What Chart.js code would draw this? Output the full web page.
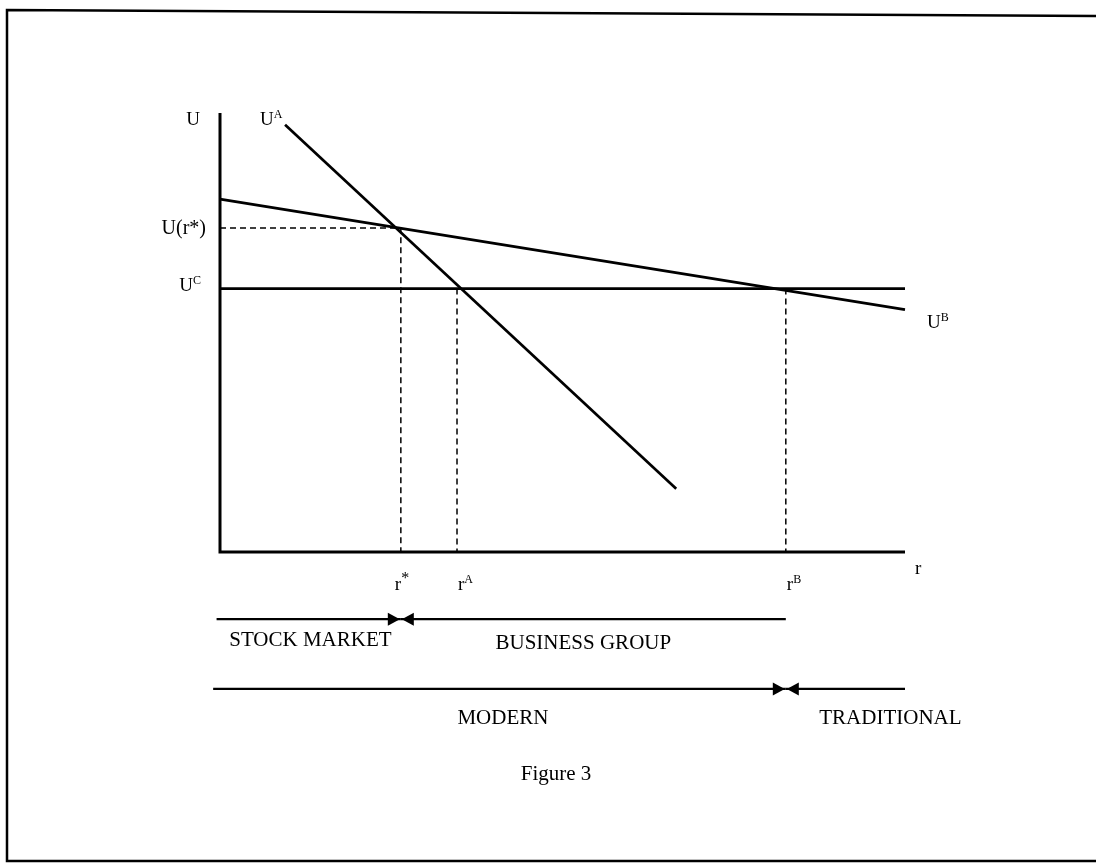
<!DOCTYPE html>
<html>
<head>
<meta charset="utf-8">
<script src="https://cdn.jsdelivr.net/npm/chart.js@4.4.1/dist/chart.umd.min.js"></script>
<style>
html, body { margin: 0; padding: 0; background: #fff; }
#wrap { width: 1096px; height: 864px; }
</style>
</head>
<body>
<div id="wrap"><canvas id="fig" width="1096" height="864"></canvas></div>
<script>
// points marked on the r axis: r*, rA, rB
const rNames = ['r', 'r', 'r'];
const rSups = ['*', 'A', 'B'];
const rValues = [26.4, 34.6, 82.6];
const rMax = 100;
const uMax = 100;

// utility levels
const uStar = 73.8;
const uC = 60;

// the two sloping curves (end points, [r, U])
const uAPoints = [[9.5, 97.3], [66.6, 14.4]];
const uBPoints = [[0, 80.4], [100, 55.2]];

// the two bands drawn under the r axis
const bandLevels = [-15.3, -31.2];
const band1Labels = ['STOCK MARKET', 'BUSINESS GROUP'];
const band2Labels = ['MODERN', 'TRADITIONAL'];

const caption = 'Figure 3';

const SERIF = '"Liberation Serif", "Times New Roman", serif';
const rStar = rValues[0], rA = rValues[1], rB = rValues[2];

function pts(arr) {
    return arr.map(p => ({ x: p[0], y: p[1] }));
}

function lineSet(data, width, dash) {
    return {
        data: data,
        showLine: true,
        borderColor: '#000',
        borderWidth: width,
        borderDash: dash || [],
        pointRadius: 0,
        fill: false,
        tension: 0,
        clip: false
    };
}

const datasets = [
    // axes
    lineSet([{ x: 0, y: uMax }, { x: 0, y: 0 }, { x: rMax, y: 0 }], 3),
    // curves
    lineSet(pts(uAPoints), 2.7),
    lineSet(pts(uBPoints), 2.7),
    lineSet([{ x: 0, y: uC }, { x: rMax, y: uC }], 2.8),
    // dashed guides
    lineSet([{ x: 0, y: uStar }, { x: rStar, y: uStar }, { x: rStar, y: 0 }], 1.5, [6, 4]),
    lineSet([{ x: rA, y: uC }, { x: rA, y: 0 }], 1.5, [6, 4]),
    lineSet([{ x: rB, y: uC }, { x: rB, y: 0 }], 1.5, [6, 4]),
    // bands
    lineSet([{ x: -0.5, y: bandLevels[0] }, { x: rStar, y: bandLevels[0] }], 2.2),
    lineSet([{ x: rStar, y: bandLevels[0] }, { x: rB, y: bandLevels[0] }], 2.2),
    lineSet([{ x: -1, y: bandLevels[1] }, { x: rB, y: bandLevels[1] }], 2.2),
    lineSet([{ x: rB, y: bandLevels[1] }, { x: rMax, y: bandLevels[1] }], 2.2)
];

// text with a raised part, e.g. U^A
function supText(ctx, x, y, main, sup, align, size, supSize) {
    const ss = supSize || Math.round(size * 0.66);
    ctx.font = size + 'px ' + SERIF;
    const w1 = ctx.measureText(main).width;
    ctx.font = ss + 'px ' + SERIF;
    const w2 = ctx.measureText(sup).width;
    let left = x;
    if (align === 'right') left = x - w1 - w2;
    if (align === 'center') left = x - (w1 + w2) / 2;
    ctx.textAlign = 'left';
    ctx.font = size + 'px ' + SERIF;
    ctx.fillText(main, left, y);
    ctx.font = ss + 'px ' + SERIF;
    ctx.fillText(sup, left + w1, y - size * 0.36);
}

function arrowHead(ctx, tipX, y, dir) {
    const len = 12, half = 6.5;
    ctx.beginPath();
    ctx.moveTo(tipX, y);
    ctx.lineTo(tipX - dir * len, y - half);
    ctx.lineTo(tipX - dir * len, y + half);
    ctx.closePath();
    ctx.fill();
}

const labelsPlugin = {
    id: 'figureLabels',
    afterDraw(chart) {
        const ctx = chart.ctx;
        const xs = chart.scales.x, ys = chart.scales.y;
        const X = v => xs.getPixelForValue(v);
        const Y = v => ys.getPixelForValue(v);
        const x0 = X(0), y0 = Y(0);

        ctx.save();
        ctx.fillStyle = '#000';
        ctx.strokeStyle = '#000';
        ctx.textBaseline = 'alphabetic';

        // frame round the figure
        ctx.lineWidth = 2.5;
        ctx.beginPath();
        ctx.moveTo(1096, 16);
        ctx.lineTo(7, 10);
        ctx.lineTo(7, 861);
        ctx.lineTo(1096, 861);
        ctx.stroke();

        // axis names
        ctx.font = '19px ' + SERIF;
        ctx.textAlign = 'right';
        ctx.fillText('U', x0 - 20, Y(uMax) + 12);
        ctx.textAlign = 'left';
        ctx.fillText('r', X(rMax) + 10, y0 + 22);

        // curve names
        supText(ctx, X(uAPoints[0][0]) - 25, Y(uAPoints[0][1]), 'U', 'A', 'left', 19, 12);
        supText(ctx, X(uBPoints[1][0]) + 22, Y(uBPoints[1][1]) + 18, 'U', 'B', 'left', 19, 12);
        supText(ctx, x0 - 19, Y(uC) + 2, 'U', 'C', 'right', 19, 12);
        ctx.font = '20px ' + SERIF;
        ctx.textAlign = 'right';
        ctx.fillText('U(r*)', x0 - 14, Y(uStar) + 6);

        // marks on the r axis
        rValues.forEach((v, i) => {
            const dx = i === 0 ? -6 : 1;
            supText(ctx, X(v) + dx, y0 + 38, rNames[i], rSups[i], 'left', 19, i === 0 ? 16 : 12);
        });

        // band arrows
        const b1 = Y(bandLevels[0]), b2 = Y(bandLevels[1]);
        arrowHead(ctx, X(rStar) - 1, b1, 1);
        arrowHead(ctx, X(rStar) + 1, b1, -1);
        arrowHead(ctx, X(rB) - 1, b2, 1);
        arrowHead(ctx, X(rB) + 1, b2, -1);

        ctx.font = '21px ' + SERIF;
        ctx.textAlign = 'center';
        ctx.fillText(band1Labels[0], (x0 + X(rStar)) / 2, b1 + 27);
        ctx.fillText(band1Labels[1], (X(rStar) + X(rB)) / 2 - 10, b1 + 30);
        ctx.fillText(band2Labels[0], (x0 + X(rB)) / 2, b2 + 35);
        ctx.fillText(band2Labels[1], (X(rB) + X(rMax)) / 2 + 45, b2 + 35);

        ctx.font = '21px ' + SERIF;
        ctx.fillText(caption, 556, 780);
        ctx.restore();
    }
};

new Chart(document.getElementById('fig'), {
    type: 'scatter',
    data: { datasets: datasets },
    options: {
        responsive: false,
        animation: false,
        layout: { padding: { left: 220, right: 191, top: 113, bottom: 312 } },
        plugins: { legend: { display: false }, tooltip: { enabled: false } },
        scales: {
            x: { type: 'linear', min: 0, max: rMax, display: false },
            y: { type: 'linear', min: 0, max: uMax, display: false }
        }
    },
    plugins: [labelsPlugin]
});
</script>
</body>
</html>
